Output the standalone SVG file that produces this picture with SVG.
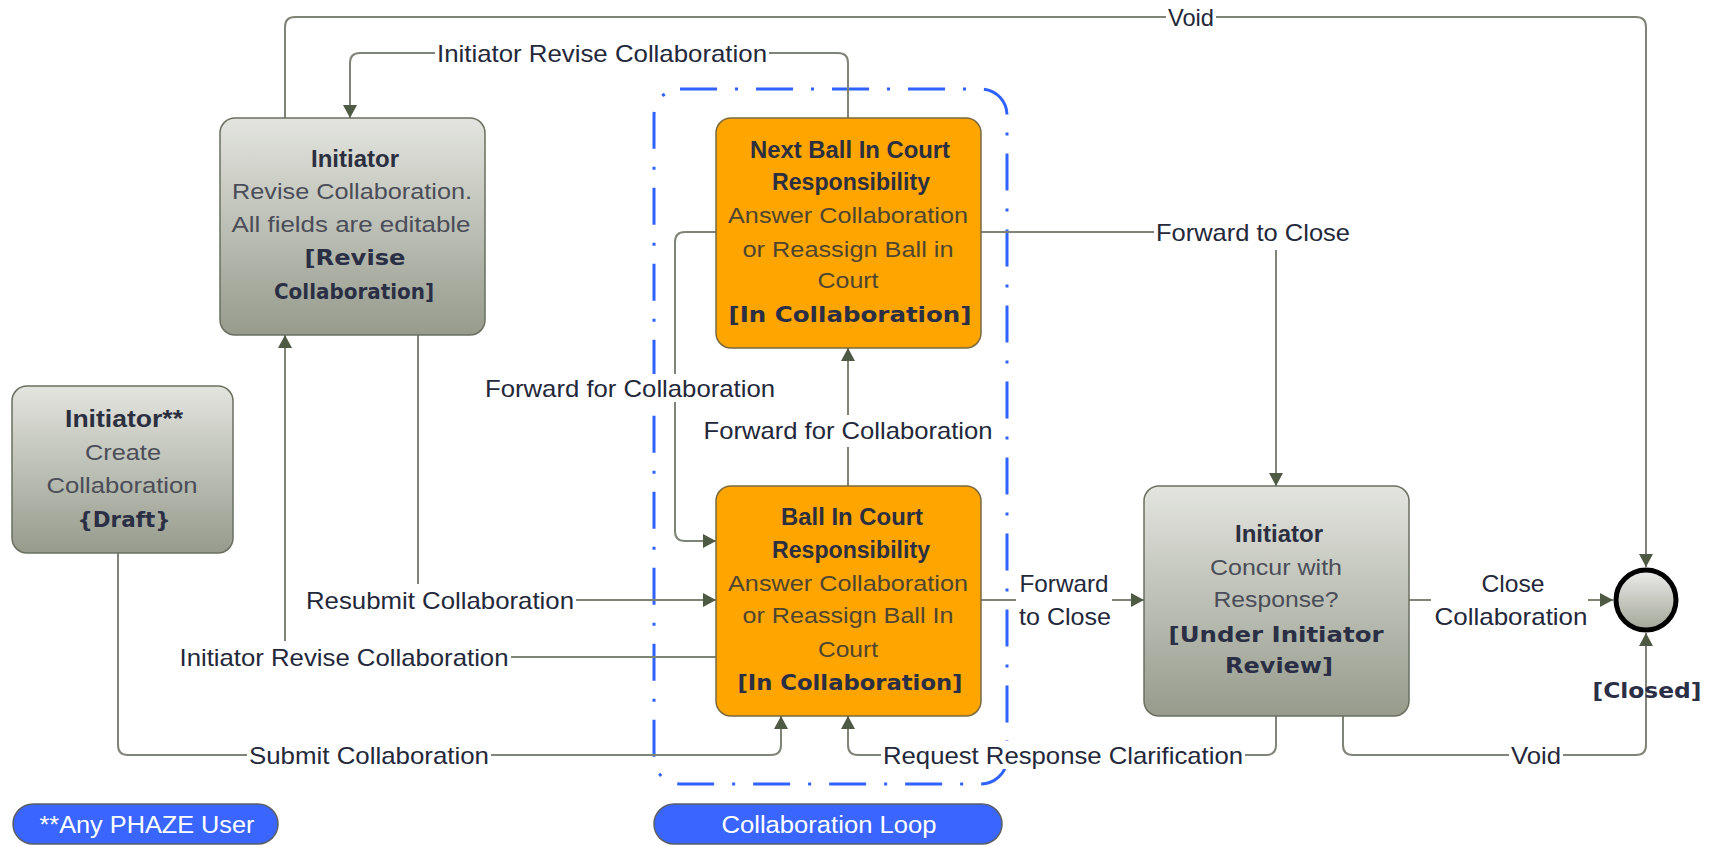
<svg xmlns="http://www.w3.org/2000/svg" width="1715" height="845" viewBox="0 0 1715 845">
<style>
.conn{fill:none;stroke:#7e8476;stroke-width:2}
.lbl{font-family:"Liberation Sans",Arial,sans-serif;font-size:24px;fill:#23283a;text-anchor:middle}
.bg{fill:#ffffff}
.ttl{font-family:"Liberation Sans",Arial,sans-serif;font-size:23px;font-weight:bold;fill:#2b2f3f;text-anchor:middle}
.body{font-family:"Liberation Sans",Arial,sans-serif;font-size:22px;fill:#4b4d58;text-anchor:middle}
.bodyo{font-family:"Liberation Sans",Arial,sans-serif;font-size:22px;fill:#4e4530;text-anchor:middle}
.st{font-family:"DejaVu Sans",Verdana,sans-serif;font-size:22px;font-weight:bold;fill:#2b2f45;text-anchor:middle}
.gnode{fill:url(#gGray);stroke:#6a7060;stroke-width:1.5}
.onode{fill:#ffa500;stroke:#7a6a40;stroke-width:1.5}
.pill{fill:#3a66ff;stroke:#5a5f66;stroke-width:1.5}
.ptxt{font-family:"Liberation Sans",Arial,sans-serif;font-size:23px;fill:#ffffff;text-anchor:middle}
</style>
<defs>
<linearGradient id="gGray" x1="0" y1="0" x2="0" y2="1">
<stop offset="0" stop-color="#e3e4df"/>
<stop offset="1" stop-color="#969b8c"/>
</linearGradient>
<linearGradient id="gCirc" x1="0" y1="0" x2="0" y2="1">
<stop offset="0" stop-color="#ececea"/>
<stop offset="1" stop-color="#a2a697"/>
</linearGradient>
<marker id="arr" markerUnits="userSpaceOnUse" markerWidth="14" markerHeight="14" refX="13" refY="7" orient="auto">
<path d="M0,0 L13,7 L0,14 z" fill="#4f5a44"/>
</marker>
</defs>
<rect width="1715" height="845" fill="#ffffff"/>

<g id="loop">
<rect x="654" y="89" width="353" height="695" rx="26" fill="none" stroke="#2f62ff" stroke-width="3" stroke-dasharray="37 18 3 18"/>
</g>

<g id="connectors">
<path class="conn" marker-end="url(#arr)" d="M285,118 V27 Q285,17 295,17 H1636 Q1646,17 1646,27 V567"/>
<path class="conn" marker-end="url(#arr)" d="M848,118 V63 Q848,53 838,53 H360 Q350,53 350,63 V118"/>
<path class="conn" marker-end="url(#arr)" d="M981,232 H1266 Q1276,232 1276,242 V486"/>
<path class="conn" marker-end="url(#arr)" d="M716,232 H685 Q675,232 675,242 V531 Q675,541 685,541 H716"/>
<path class="conn" marker-end="url(#arr)" d="M848,486 V348"/>
<path class="conn" marker-end="url(#arr)" d="M418,335 V590 Q418,600 428,600 H716"/>
<path class="conn" marker-end="url(#arr)" d="M716,657 H295 Q285,657 285,647 V335"/>
<path class="conn" marker-end="url(#arr)" d="M118,553 V745 Q118,755 128,755 H771 Q781,755 781,745 V716"/>
<path class="conn" marker-end="url(#arr)" d="M1276,716 V745 Q1276,755 1266,755 H858 Q848,755 848,745 V716"/>
<path class="conn" marker-end="url(#arr)" d="M1343,716 V745 Q1343,755 1353,755 H1636 Q1646,755 1646,745 V633"/>
<path class="conn" marker-end="url(#arr)" d="M981,600 H1144"/>
<path class="conn" marker-end="url(#arr)" d="M1409,600 H1613"/>

<rect class="bg" x="1166" y="4" width="50" height="28"/>
<text class="lbl" x="1191" y="26" textLength="46" lengthAdjust="spacingAndGlyphs">Void</text>
<rect class="bg" x="435" y="40" width="334" height="28"/>
<text class="lbl" x="602" y="62" textLength="330" lengthAdjust="spacingAndGlyphs">Initiator Revise Collaboration</text>
<rect class="bg" x="1154" y="218" width="198" height="32"/>
<text class="lbl" x="1253" y="241" textLength="194" lengthAdjust="spacingAndGlyphs">Forward to Close</text>
<rect class="bg" x="483" y="374" width="294" height="28"/>
<text class="lbl" x="630" y="397" textLength="290" lengthAdjust="spacingAndGlyphs">Forward for Collaboration</text>
<rect class="bg" x="701" y="415" width="293" height="32"/>
<text class="lbl" x="848" y="439" textLength="289" lengthAdjust="spacingAndGlyphs">Forward for Collaboration</text>
<rect class="bg" x="304" y="584" width="272" height="32"/>
<text class="lbl" x="440" y="609" textLength="268" lengthAdjust="spacingAndGlyphs">Resubmit Collaboration</text>
<rect class="bg" x="178" y="641" width="333" height="30"/>
<text class="lbl" x="344" y="666" textLength="329" lengthAdjust="spacingAndGlyphs">Initiator Revise Collaboration</text>
<rect class="bg" x="247" y="741" width="244" height="28"/>
<text class="lbl" x="369" y="764" textLength="240" lengthAdjust="spacingAndGlyphs">Submit Collaboration</text>
<rect class="bg" x="881" y="741" width="364" height="28"/>
<text class="lbl" x="1063" y="764" textLength="360" lengthAdjust="spacingAndGlyphs">Request Response Clarification</text>
<rect class="bg" x="1509" y="741" width="54" height="28"/>
<text class="lbl" x="1536" y="764" textLength="50" lengthAdjust="spacingAndGlyphs">Void</text>
<rect class="bg" x="1016" y="568" width="96" height="64"/>
<text class="lbl" x="1064" y="592" textLength="89" lengthAdjust="spacingAndGlyphs">Forward</text>
<text class="lbl" x="1065" y="625" textLength="92" lengthAdjust="spacingAndGlyphs">to Close</text>
<rect class="bg" x="1431" y="568" width="157" height="64"/>
<text class="lbl" x="1513" y="592" textLength="63" lengthAdjust="spacingAndGlyphs">Close</text>
<text class="lbl" x="1511" y="625" textLength="153" lengthAdjust="spacingAndGlyphs">Collaboration</text>
</g>

<g id="node-draft">
<rect class="gnode" x="12" y="386" width="221" height="167" rx="15"/>
<text class="ttl" x="124" y="427" textLength="118" lengthAdjust="spacingAndGlyphs">Initiator**</text>
<text class="body" x="123" y="460" textLength="76" lengthAdjust="spacingAndGlyphs">Create</text>
<text class="body" x="122" y="493" textLength="151" lengthAdjust="spacingAndGlyphs">Collaboration</text>
<text class="st" x="124" y="527" textLength="93" lengthAdjust="spacingAndGlyphs">{Draft}</text>
</g>

<g id="node-revise">
<rect class="gnode" x="220" y="118" width="265" height="217" rx="15"/>
<text class="ttl" x="355" y="167" textLength="88" lengthAdjust="spacingAndGlyphs">Initiator</text>
<text class="body" x="352" y="199" textLength="240" lengthAdjust="spacingAndGlyphs">Revise Collaboration.</text>
<text class="body" x="351" y="232" textLength="239" lengthAdjust="spacingAndGlyphs">All fields are editable</text>
<text class="st" x="355" y="265" textLength="101" lengthAdjust="spacingAndGlyphs">[Revise</text>
<text class="st" x="354" y="299" textLength="160" lengthAdjust="spacingAndGlyphs">Collaboration]</text>
</g>

<g id="node-next-bic">
<rect class="onode" x="716" y="118" width="265" height="230" rx="15"/>
<text class="ttl" x="850" y="158" textLength="200" lengthAdjust="spacingAndGlyphs">Next Ball In Court</text>
<text class="ttl" x="851" y="190" textLength="158" lengthAdjust="spacingAndGlyphs">Responsibility</text>
<text class="bodyo" x="848" y="223" textLength="240" lengthAdjust="spacingAndGlyphs">Answer Collaboration</text>
<text class="bodyo" x="848" y="257" textLength="211" lengthAdjust="spacingAndGlyphs">or Reassign Ball in</text>
<text class="bodyo" x="848" y="288" textLength="61" lengthAdjust="spacingAndGlyphs">Court</text>
<text class="st" x="850" y="322" textLength="243" lengthAdjust="spacingAndGlyphs">[In Collaboration]</text>
</g>

<g id="node-bic">
<rect class="onode" x="716" y="486" width="265" height="230" rx="15"/>
<text class="ttl" x="852" y="525" textLength="142" lengthAdjust="spacingAndGlyphs">Ball In Court</text>
<text class="ttl" x="851" y="558" textLength="158" lengthAdjust="spacingAndGlyphs">Responsibility</text>
<text class="bodyo" x="848" y="591" textLength="240" lengthAdjust="spacingAndGlyphs">Answer Collaboration</text>
<text class="bodyo" x="848" y="623" textLength="211" lengthAdjust="spacingAndGlyphs">or Reassign Ball In</text>
<text class="bodyo" x="848" y="657" textLength="60" lengthAdjust="spacingAndGlyphs">Court</text>
<text class="st" x="850" y="690" textLength="225" lengthAdjust="spacingAndGlyphs">[In Collaboration]</text>
</g>

<g id="node-concur">
<rect class="gnode" x="1144" y="486" width="265" height="230" rx="15"/>
<text class="ttl" x="1279" y="542" textLength="88" lengthAdjust="spacingAndGlyphs">Initiator</text>
<text class="body" x="1276" y="575" textLength="132" lengthAdjust="spacingAndGlyphs">Concur with</text>
<text class="body" x="1276" y="607" textLength="125" lengthAdjust="spacingAndGlyphs">Response?</text>
<text class="st" x="1276" y="642" textLength="215" lengthAdjust="spacingAndGlyphs">[Under Initiator</text>
<text class="st" x="1279" y="673" textLength="108" lengthAdjust="spacingAndGlyphs">Review]</text>
</g>

<g id="node-closed">
<circle cx="1646" cy="600" r="30" fill="url(#gCirc)" stroke="#000000" stroke-width="5"/>
<text class="st" x="1647" y="698" textLength="109" lengthAdjust="spacingAndGlyphs">[Closed]</text>
</g>

<g id="legend-any-user">
<rect class="pill" x="13" y="804" width="265" height="40" rx="20"/>
<text class="ptxt" x="147" y="833" textLength="215" lengthAdjust="spacingAndGlyphs">**Any PHAZE User</text>
</g>

<g id="legend-loop">
<rect class="pill" x="654" y="804" width="348" height="40" rx="20"/>
<text class="ptxt" x="829" y="833" textLength="215" lengthAdjust="spacingAndGlyphs">Collaboration Loop</text>
</g>
</svg>
